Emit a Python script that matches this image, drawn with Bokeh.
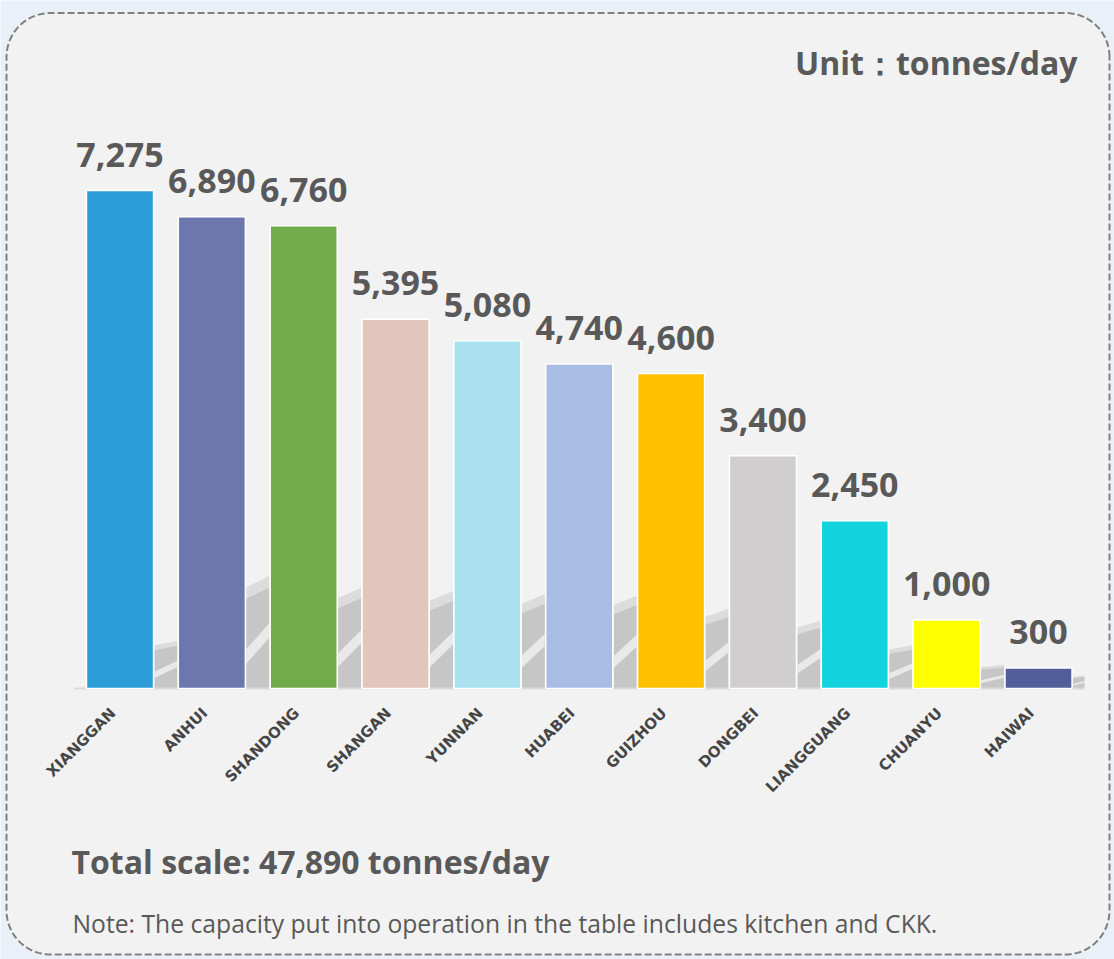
import numpy as np
from bokeh.plotting import figure
from bokeh.models import Range1d, ColumnDataSource
from bokeh.core.properties import value
from bokeh.embed import file_html
from bokeh.resources import INLINE

# ---- data ----
categories = ["XIANGGAN", "ANHUI", "SHANDONG", "SHANGAN", "YUNNAN", "HUABEI",
              "GUIZHOU", "DONGBEI", "LIANGGUANG", "CHUANYU", "HAIWAI"]
capacity = [7275, 6890, 6760, 5395, 5080, 4740, 4600, 3400, 2450, 1000, 300]
bar_colors = ["#2b9cd8", "#6d77ae", "#72ac4a", "#e2c6bb", "#a9e1ef", "#a9bce3",
              "#ffc000", "#d0cece", "#13d3df", "#ffff00", "#525e9a"]
unit_text = "Unit：tonnes/day"
total_text = "Total scale: 47,890 tonnes/day"
note_text = "Note: The capacity put into operation in the table includes kitchen and CKK."

W, H = 1114, 959
n = len(categories)
idx = np.arange(n)
vals = np.array(capacity, dtype=float)

# scale: category step 91.85 px, first centre at 119.5 px; baseline at 688 px from top
step = 91.85
x0 = 119.5
ppu = 498.0 / 7275.0
base_px = H - 688.0
x_range = Range1d(-x0 / step, (W - x0) / step)
y_range = Range1d(-base_px / ppu, (H - base_px) / ppu)

p = figure(width=W, height=H, x_range=x_range, y_range=y_range,
           output_backend="svg", toolbar_location=None, min_border=0)
p.extra_x_ranges = {"px": Range1d(0, W)}
p.extra_y_ranges = {"px": Range1d(H, 0)}
p.axis.visible = False
p.grid.visible = False
p.outline_line_color = None
p.background_fill_color = "#e9f0f8"
p.border_fill_color = "#e9f0f8"

# rounded dashed panel (decoration)
L, R, T, B, r = 6.0, 1109.0, 12.5, 954.0, 44.0
def arc(cx, cy, a0, a1):
    a = np.linspace(a0, a1, 24)
    return cx + r * np.cos(a), cy - r * np.sin(a)
xs, ys = [], []
for cx, cy, a0, a1 in [(R - r, T + r, 0, np.pi / 2), (L + r, T + r, np.pi / 2, np.pi),
                       (L + r, B - r, np.pi, 1.5 * np.pi), (R - r, B - r, 1.5 * np.pi, 2 * np.pi)]:
    ax, ay = arc(cx, cy, a0, a1)
    xs.extend(ax); ys.extend(ay)
p.patch(xs, ys, x_range_name="px", y_range_name="px", fill_color="#f2f2f2",
        line_color="#808080", line_width=2, line_dash="7 3")

# soft shadows in the gaps between bars (derived from data)
bw = 0.73
sh = 20 * np.sqrt(np.append(vals[1:], vals[-1] * 0.3))
sh[0] *= 0.42
sx, sy, lx, ly, tx, ty = [], [], [], [], [], []
for k in range(n):
    xl = k + bw / 2 + 0.01
    xr = min(k + 1 - bw / 2 - 0.01, n - 0.5)
    s = sh[k]
    sx.append([xl, xr, xr, xl]); sy.append([0, 0, 0.9 * s, 0.8 * s])
    tx.append([xl, xr, xr, xl]); ty.append([0.8 * s, 0.9 * s, s, 0.9 * s])
    lx.append([xl, xr, xr, xl]); ly.append([0.22 * s, 0.45 * s, 0.58 * s, 0.35 * s])
p.patches(tx, ty, fill_color="#dcdcdc", line_color=None)
p.patches(sx, sy, fill_color="#c6c6c6", line_color=None)
p.patches(lx, ly, fill_color="#e9e9e9", line_color=None)

# axis line
p.line([-0.5, n - 0.5], [0, 0], line_color="#d9d9d9", line_width=2)

src = ColumnDataSource(dict(x=idx, top=vals, color=bar_colors, cat=categories,
                            label=[f"{v:,}" for v in capacity], zero=np.zeros(n)))
p.vbar(x="x", top="top", bottom=0, width=bw, source=src, fill_color="color",
       line_color="white", line_width=1.5)

# value labels
p.text(x="x", y="top", text="label", source=src, text_align="center",
       text_baseline="alphabetic", y_offset=-36, text_font=value("Open Sans"),
       text_font_style="bold", text_font_size="34px", text_color="#595959")

# category labels
p.text(x="x", y="zero", text="cat", source=src, angle=np.pi / 4,
       text_align="right", text_baseline="middle", x_offset=-7, y_offset=22,
       text_font=value("DejaVu Sans"), text_font_style="bold",
       text_font_size="15px", text_color="#454545")

# texts
p.text(x=[1077], y=[62], text=[unit_text], x_range_name="px", y_range_name="px",
       text_align="right", text_baseline="alphabetic", text_font=value("Open Sans"),
       text_font_style="bold", text_font_size="32px", text_color="#595959")
p.text(x=[71], y=[861], text=[total_text], x_range_name="px", y_range_name="px",
       text_align="left", text_baseline="alphabetic", text_font=value("Open Sans"),
       text_font_style="bold", text_font_size="32px", text_color="#595959")
p.text(x=[72], y=[923], text=[note_text], x_range_name="px", y_range_name="px",
       text_align="left", text_baseline="alphabetic", text_font=value("Open Sans"),
       text_font_size="24.7px", text_color="#595959")

open("out.html", "w").write(file_html(p, INLINE))
